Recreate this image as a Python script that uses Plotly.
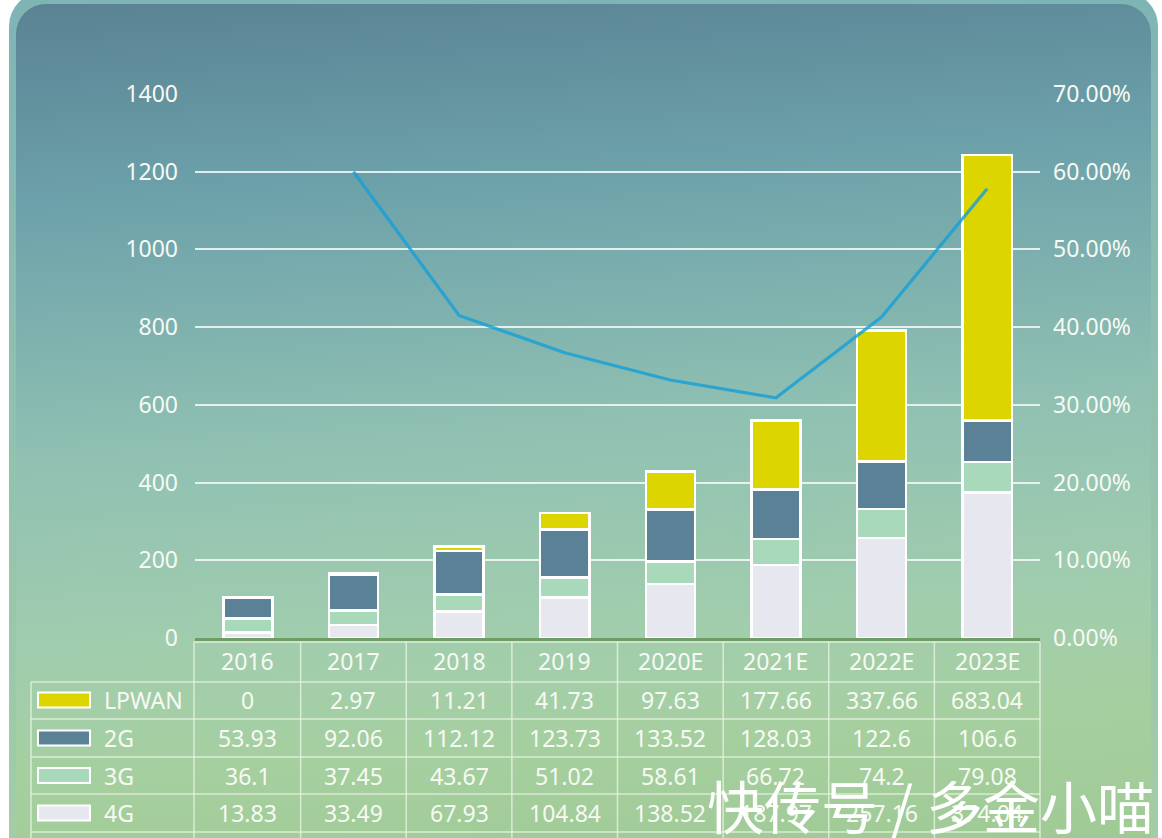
import base64
import plotly.graph_objects as go

# ---------------- data ----------------
categories = ["2016", "2017", "2018", "2019", "2020E", "2021E", "2022E", "2023E"]
lpwan = [0, 2.97, 11.21, 41.73, 97.63, 177.66, 337.66, 683.04]
g2 = [53.93, 92.06, 112.12, 123.73, 133.52, 128.03, 122.6, 106.6]
g3 = [36.1, 37.45, 43.67, 51.02, 58.61, 66.72, 74.2, 79.08]
g4 = [13.83, 33.49, 67.93, 104.84, 138.52, 187.97, 257.16, 374.04]
growth = [None, 0.600, 0.415, 0.367, 0.332, 0.309, 0.413, 0.578]
left_ticks = [0, 200, 400, 600, 800, 1000, 1200, 1400]
right_ticks = [0.0, 0.1, 0.2, 0.3, 0.4, 0.5, 0.6, 0.7]
series_names = ["LPWAN", "2G", "3G", "4G"]

# ---------------- geometry / style ----------------
W, H = 1162, 838
ML, MR, MT, MB = 195, 122, 94, 200
PW, PH = W - ML - MR, H - MT - MB
PLOT_BOTTOM = H - MB

def px(x):
    return (x - ML) / PW

def py(y):
    return (PLOT_BOTTOM - y) / PH

colors = {"LPWAN": "#dcd500", "2G": "#5b8196", "3G": "#a9d9bb", "4G": "#e7e7ef"}
FONT = "Noto Sans, Open Sans, sans-serif"
TXT = "#f7faf4"
FS = 23

svg = f'''<svg xmlns="http://www.w3.org/2000/svg" width="{W}" height="{H}" viewBox="0 0 {W} {H}">
<defs>
<linearGradient id="g" x1="0" y1="0" x2="0.08" y2="1">
<stop offset="0" stop-color="#5a8293"/>
<stop offset="0.22" stop-color="#6ca1aa"/>
<stop offset="0.5" stop-color="#8fc0b2"/>
<stop offset="0.72" stop-color="#a1cdae"/>
<stop offset="0.86" stop-color="#a6cf9f"/>
<stop offset="1" stop-color="#9fca95"/>
</linearGradient>
<linearGradient id="b" x1="0" y1="0" x2="0" y2="1">
<stop offset="0" stop-color="#7fb4b6"/>
<stop offset="1" stop-color="#a5cfa6"/>
</linearGradient>
</defs>
<rect x="0" y="0" width="{W}" height="{H}" fill="#ffffff"/>
<rect x="9" y="-8" width="1149" height="900" rx="34" fill="url(#b)"/>
<rect x="16" y="4" width="1135" height="900" rx="30" fill="url(#g)"/>
</svg>'''
svg_uri = "data:image/svg+xml;base64," + base64.b64encode(svg.encode()).decode()

fig = go.Figure()

stack = [("4G", g4), ("3G", g3), ("2G", g2), ("LPWAN", lpwan)]
for name, vals in stack:
    fig.add_trace(go.Bar(
        x=categories, y=vals, name=name,
        marker=dict(color=colors[name], line=dict(color="#ffffff", width=2.5)),
        yaxis="y",
    ))

fig.add_trace(go.Scatter(
    x=categories, y=growth, mode="lines", name="增长率",
    line=dict(color="rgba(22,160,215,0.82)", width=3.2),
    yaxis="y2", connectgaps=False,
))

shapes = []
annotations = []

LINE = dict(color="rgba(235,245,230,0.75)", width=1.5)
row_lines = [682, 719, 757, 794, 832]
shapes.append(dict(type="line", xref="paper", yref="paper",
                   x0=px(194), x1=px(1040), y0=py(642), y1=py(642), line=LINE, layer="above"))
for yv in row_lines:
    shapes.append(dict(type="line", xref="paper", yref="paper",
                       x0=px(31), x1=px(1040), y0=py(yv), y1=py(yv), line=LINE, layer="above"))
shapes.append(dict(type="line", xref="paper", yref="paper",
                   x0=px(31), x1=px(31), y0=py(682), y1=py(H + 5), line=LINE))
shapes.append(dict(type="line", xref="paper", yref="paper",
                   x0=px(194), x1=px(194), y0=py(642), y1=py(H + 5), line=LINE))
shapes.append(dict(type="line", xref="paper", yref="paper",
                   x0=px(1040), x1=px(1040), y0=py(642), y1=py(H + 5), line=LINE))
for i in range(len(categories) - 1):
    shapes.append(dict(type="line", xref="x", yref="paper",
                       x0=i + 0.5, x1=i + 0.5, y0=py(642), y1=py(H + 5), line=LINE))

for i, c in enumerate(categories):
    annotations.append(dict(x=i, xref="x", y=py(661), yref="paper", text=c,
                            showarrow=False, font=dict(family=FONT, size=FS, color=TXT),
                            xanchor="center", yanchor="middle"))

rows = [("LPWAN", lpwan, 700), ("2G", g2, 738), ("3G", g3, 775.5), ("4G", g4, 813)]
for name, vals, yc in rows:
    shapes.append(dict(type="rect", xref="paper", yref="paper",
                       x0=px(38), x1=px(90), y0=py(yc - 7.5), y1=py(yc + 7.5),
                       fillcolor=colors[name], line=dict(color="#ffffff", width=2), layer="above"))
    annotations.append(dict(x=px(102), xref="paper", y=py(yc), yref="paper", text=name,
                            showarrow=False, font=dict(family=FONT, size=FS, color=TXT),
                            xanchor="left", yanchor="middle"))
    for i, v in enumerate(vals):
        annotations.append(dict(x=i, xref="x", y=py(yc), yref="paper", text=f"{v:g}",
                                showarrow=False, font=dict(family=FONT, size=FS, color=TXT),
                                xanchor="center", yanchor="middle"))

annotations.append(dict(x=px(1156), xref="paper", y=py(804), yref="paper",
                        text="快传号 / 多金小喵", showarrow=False,
                        font=dict(family="Noto Sans CJK SC", size=57, color="#ffffff"),
                        xanchor="right", yanchor="middle"))

fig.update_layout(
    width=W, height=H,
    margin=dict(l=ML, r=MR, t=MT, b=MB, pad=0),
    paper_bgcolor="#ffffff",
    plot_bgcolor="rgba(0,0,0,0)",
    barmode="stack",
    bargap=0.535,
    showlegend=False,
    font=dict(family=FONT, color=TXT),
    images=[dict(source=svg_uri, xref="paper", yref="paper",
                 x=px(0), y=py(0), sizex=W / PW, sizey=H / PH,
                 sizing="stretch", xanchor="left", yanchor="top", layer="below")],
    xaxis=dict(type="category", categoryorder="array", categoryarray=categories,
               range=[-0.5, len(categories) - 0.5], autorange=False,
               showticklabels=False, showgrid=False, zeroline=False,
               showline=True, linecolor="#6f9d66", linewidth=2.5, ticks=""),
    yaxis=dict(range=[0, 1400], tickvals=left_ticks, ticktext=[str(t) for t in left_ticks],
               showgrid=True, gridcolor="rgba(240,246,244,0.9)", gridwidth=2,
               zeroline=False, showline=False, ticks="",
               tickfont=dict(family=FONT, size=FS, color=TXT), ticklabelstandoff=16),
    yaxis2=dict(range=[0, 0.7], tickvals=right_ticks,
                ticktext=[f"{t*100:.2f}%" for t in right_ticks],
                overlaying="y", side="right", showgrid=False, zeroline=False,
                showline=False, ticks="",
                tickfont=dict(family=FONT, size=FS, color=TXT), ticklabelstandoff=12),
    shapes=shapes,
    annotations=annotations,
)

fig.write_html("out.html")
